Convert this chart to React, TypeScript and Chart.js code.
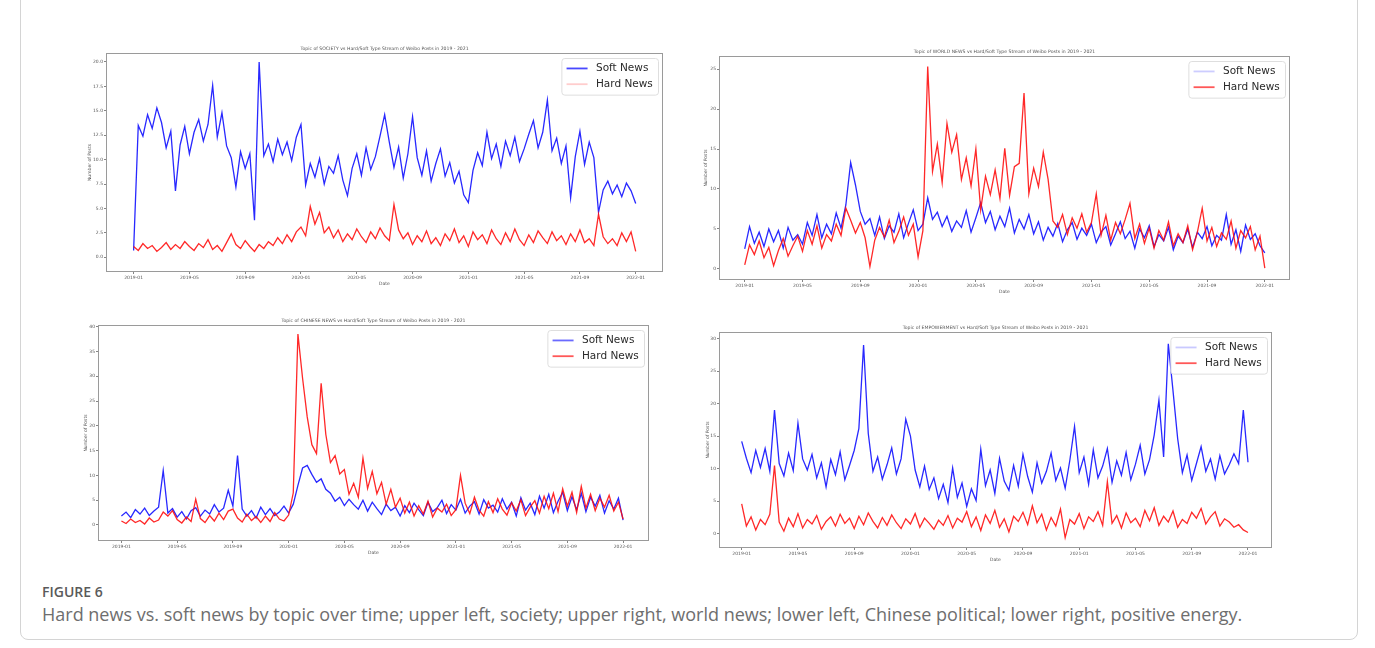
import React, { useEffect, useRef } from "react";
import { Chart, registerables } from "chart.js";

Chart.register(...registerables);

// ---------- data (3 points per month, 2019-01-01 … 2022-01-01) ----------
const xTickLabels = ["2019-01", "2019-05", "2019-09", "2020-01", "2020-05", "2020-09", "2021-01", "2021-05", "2021-09", "2022-01"];
const xTickIndex = [0, 12, 24, 36, 48, 60, 72, 84, 96, 108];

const societySoft = [
  0.7, 13.5, 12.4, 14.6, 13.2, 15.3, 13.8, 11.2, 12.9, 6.8,
  11.5, 13.4, 10.6, 12.8, 14.1, 11.9, 13.6, 17.6, 12.3, 14.8,
  11.4, 10.2, 7.2, 10.8, 9.1, 10.6, 3.8, 20.0, 10.4, 11.6,
  9.8, 12.1, 10.5, 11.8, 9.9, 12.3, 13.6, 7.4, 9.6, 8.2,
  10.1, 7.5, 9.3, 8.6, 10.4, 7.9, 6.3, 9.1, 10.6, 8.4,
  11.2, 9.0, 10.3, 12.4, 14.6, 11.8, 9.2, 11.3, 8.1, 10.6,
  14.4, 10.2, 8.4, 10.9, 7.8, 9.6, 11.1, 8.3, 9.7, 7.6,
  8.8, 6.4, 5.6, 8.9, 10.7, 9.4, 12.8, 10.1, 11.6, 9.3,
  11.9, 10.4, 12.3, 9.8, 11.1, 12.6, 14.0, 11.2, 12.8, 16.1,
  10.9, 12.2, 9.6, 11.4, 6.1, 10.3, 12.9, 9.5, 11.8, 10.2,
  4.6, 6.9, 7.8, 6.5, 7.4, 6.2, 7.6, 6.8, 5.5,
];
const societyHard = [
  1.1, 0.7, 1.4, 0.9, 1.2, 0.6, 1.0, 1.5, 0.8, 1.3,
  0.9, 1.6, 1.1, 0.7, 1.4, 1.0, 1.8, 0.8, 1.2, 0.6,
  1.5, 2.4, 1.3, 0.9, 1.7, 1.1, 0.6, 1.3, 0.9, 1.6,
  1.2, 2.0, 1.4, 2.3, 1.6, 2.6, 3.1, 2.2, 5.2, 3.4,
  4.6, 2.5, 3.1, 2.0, 2.8, 1.6, 2.4, 1.8, 2.9, 2.1,
  1.5, 2.6, 1.9, 3.0, 2.2, 1.7, 5.4, 2.8, 1.9, 2.5,
  1.3, 2.2, 1.6, 2.7, 1.4, 2.0, 1.2, 2.4, 1.7, 2.9,
  1.5, 2.2, 1.1, 2.6, 1.8, 2.3, 1.4, 2.8, 1.9, 1.3,
  2.5, 1.6, 2.9, 1.8, 1.2, 2.3, 1.5, 2.7, 2.0, 1.4,
  2.6, 1.7, 2.2, 1.3, 2.4, 1.6, 2.8, 1.5, 1.9, 1.2,
  4.4, 2.1, 1.4, 1.9, 1.2, 2.5, 1.6, 2.6, 0.6,
];
const worldSoft = [
  2.5, 5.3, 3.2, 4.6, 2.8, 5.0, 3.4, 4.8, 2.6, 5.2,
  3.6, 4.3, 3.1, 5.8, 4.2, 6.8, 3.9, 5.6, 4.4, 7.0,
  5.1, 8.0, 13.3, 10.5, 7.2, 5.6, 6.3, 4.2, 6.5, 3.8,
  5.4, 4.6, 6.9, 3.9, 5.7, 7.4, 4.8, 5.6, 8.9, 6.2,
  7.1, 5.3, 6.6, 4.7, 6.0, 5.2, 7.3, 4.6, 6.4, 8.3,
  5.8, 7.2, 4.9, 6.6, 5.3, 7.6, 4.5, 6.2, 5.0, 6.8,
  4.4, 5.9, 3.6, 5.2, 4.1, 5.7, 3.4, 4.9, 5.8, 3.7,
  5.1, 4.2, 5.6, 3.3, 4.6, 5.3, 3.0, 4.4, 5.9, 3.8,
  4.7, 2.6, 5.0, 3.9, 5.4, 2.8, 4.3, 3.5, 5.2, 2.4,
  4.1, 3.3, 5.0, 2.7, 4.6, 3.8, 5.3, 2.9, 4.2, 3.6,
  6.8, 3.1, 4.9, 2.2, 5.5, 3.7, 4.4, 2.9, 2.0,
];
const worldHard = [
  0.5, 3.0, 1.8, 3.5, 1.4, 2.7, 0.4, 2.3, 3.8, 1.6,
  2.9, 4.1, 2.2, 4.8, 3.1, 5.4, 2.6, 4.3, 3.5, 5.6,
  4.2, 7.6, 6.1, 4.5, 5.8, 3.9, 0.3, 3.6, 5.2, 4.0,
  6.1, 3.3, 4.7, 6.5, 4.2, 5.6, 1.5, 4.8, 25.3, 12.2,
  15.6, 10.8, 18.2, 14.6, 16.8, 11.2, 13.9, 10.4, 15.0, 7.4,
  11.6, 9.3, 12.4, 8.8, 15.1, 9.2, 12.8, 13.2, 22.0, 9.4,
  12.6, 10.3, 14.6, 11.2, 6.0, 5.2, 6.8, 4.3, 6.4, 5.1,
  6.9, 4.6, 5.8, 9.4, 4.2, 6.7, 3.6, 5.8, 4.4, 6.2,
  8.2, 3.8, 5.6, 3.2, 5.1, 2.6, 4.8, 3.6, 5.9, 2.9,
  4.4, 3.3, 5.4, 2.4, 4.6, 7.6, 3.5, 5.2, 2.8, 4.5,
  3.7, 6.0, 2.6, 4.8, 3.9, 5.3, 2.4, 4.1, 0.1,
];
const chinaSoft = [
  1.8, 2.6, 1.5, 3.1, 2.2, 3.4, 1.9, 2.8, 3.6, 11.0,
  2.4, 3.3, 1.6, 2.7, 1.2, 2.9, 3.5, 1.8, 3.0, 2.2,
  4.1, 2.6, 3.4, 7.0, 3.8, 14.0, 3.2, 1.8, 2.9, 1.4,
  3.6, 2.1, 3.3, 1.9, 2.6, 3.8, 2.4, 4.2, 8.0, 11.5,
  12.0, 10.2, 8.6, 9.3, 7.2, 6.4, 4.8, 5.6, 3.9, 5.2,
  4.1, 3.2, 5.0, 2.8, 4.6, 3.3, 2.1, 4.2, 2.9, 3.6,
  1.8, 3.9, 2.5, 4.4, 3.1, 1.9, 4.6, 2.7, 3.5, 5.0,
  2.3, 4.1, 3.0, 5.2, 2.4, 3.8, 4.7, 2.2, 5.1, 3.4,
  4.0, 2.6, 5.3, 3.2, 4.6, 1.8, 5.5, 3.0, 4.4, 2.1,
  5.8, 3.4, 6.2, 2.5, 4.8, 6.6, 2.9, 5.7, 3.1, 6.4,
  2.7, 5.6, 3.8, 6.0, 2.4, 4.9, 3.2, 5.4, 1.0,
];
const chinaHard = [
  0.8, 0.3, 1.2, 0.5, 0.9, 0.2, 1.4, 0.6, 1.0, 2.6,
  1.8, 2.9, 1.1, 0.4, 1.6, 0.7, 5.2, 1.3, 0.5, 1.9,
  0.8, 2.4, 1.1, 2.8, 3.2, 1.4, 0.6, 2.2, 0.9, 1.7,
  0.5, 1.8, 0.7, 2.5, 1.2, 0.8, 2.0, 6.5, 38.5, 29.6,
  21.8, 16.2, 14.4, 28.6, 18.3, 12.6, 14.0, 10.3, 11.2, 6.2,
  8.4, 5.6, 13.5, 7.4, 10.8, 6.3, 8.6, 4.2, 7.2, 3.6,
  5.4, 2.4, 4.6, 1.8, 3.9, 2.2, 4.8, 1.6, 3.4, 2.6,
  4.2, 1.9, 3.1, 10.0, 4.4, 2.3, 5.6, 3.0, 1.8, 4.7,
  2.5, 5.3, 3.2, 2.0, 4.5, 2.8, 5.1, 1.9, 3.6, 4.9,
  2.4, 5.8, 3.3, 6.4, 2.7, 7.3, 3.8, 6.6, 2.5, 7.8,
  3.4, 6.2, 2.9, 5.4, 3.6, 6.0, 2.8, 4.6, 1.2,
];
const empowerSoft = [
  14.2, 11.6, 9.4, 12.8, 10.2, 13.1, 9.6, 19.0, 10.8, 8.9,
  12.4, 9.7, 17.0, 11.5, 9.8, 12.2, 8.6, 10.9, 7.2, 11.4,
  9.1, 12.6, 8.3, 10.5, 12.8, 16.2, 29.0, 15.4, 9.6, 11.8,
  8.4, 10.6, 13.2, 9.2, 11.5, 17.6, 15.0, 9.8, 7.2, 10.4,
  6.8, 8.6, 5.4, 7.6, 4.8, 10.1, 5.6, 7.8, 4.2, 6.9,
  5.1, 13.0, 7.4, 9.8, 6.2, 11.6, 8.1, 6.7, 10.5, 7.3,
  12.2, 8.8, 6.4, 10.9, 7.8, 9.6, 12.4, 8.2, 10.1, 7.0,
  11.3, 16.5, 9.4, 11.8, 7.6, 12.9, 8.6, 10.4, 13.1, 7.9,
  11.2, 9.0, 12.5, 8.3, 10.7, 13.6, 9.2, 11.4, 15.2, 20.5,
  11.8, 29.2, 22.0, 14.6, 9.4, 12.1, 8.2, 10.8, 13.4, 9.6,
  11.5, 8.4, 12.0, 9.2, 10.6, 12.3, 10.8, 19.0, 11.0,
];
const empowerHard = [
  4.6, 1.2, 2.6, 0.6, 2.2, 1.4, 3.0, 10.5, 1.8, 0.4,
  2.4, 1.1, 3.1, 0.9, 2.2, 1.5, 2.8, 0.7, 1.9, 2.6,
  1.2, 3.0, 1.6, 2.4, 0.8, 2.7, 1.4, 3.2, 1.9, 0.9,
  2.5, 1.3, 2.9, 1.7, 0.8, 2.3, 1.5, 3.1, 1.0, 2.4,
  1.6, 0.7, 2.1, 1.3, 2.8, 0.9, 2.4, 1.8, 3.4, 1.1,
  2.6, 0.5, 2.9, 1.6, 3.6, 1.0, 2.3, 0.3, 2.7, 1.9,
  3.3, 1.4, 4.3, 1.7, 3.0, 0.6, 2.5, 1.2, 3.8, -0.6,
  2.2, 1.5, 3.1, 0.8, 2.6, 1.9, 3.4, 1.3, 8.0, 1.6,
  2.8, 0.9, 3.2, 1.7, 2.4, 1.1, 3.6, 2.0, 4.0, 1.3,
  2.7, 1.8, 3.5, 1.0, 2.2, 1.6, 3.3, 2.4, 3.9, 1.5,
  2.6, 3.4, 1.2, 2.3, 1.8, 1.0, 1.4, 0.6, 0.2,
];

// ---------- panel configuration ----------
type Frame = { l: number; t: number; r: number; b: number };
type Panel = {
  title: string;
  soft: number[];
  hard: number[];
  frame: Frame;
  xMin: number; xMax: number;
  yMin: number; yMax: number;
  yTicks: number[];
  yDecimals: number;
  yTitleGap: number;
  legendSoft: string;
  legendHard: string;
};

const FONT = "'DejaVu Sans', sans-serif";
const SOFT = "rgba(10,10,255,0.88)";
const HARD = "rgba(255,10,10,0.88)";
const WY = 40, PT = 14, PR = 8, HX = 18;

const panels: Panel[] = [
  {
    title: "Topic of SOCIETY vs Hard/Soft Type Stream of Weibo Posts in 2019 - 2021",
    soft: societySoft, hard: societyHard,
    frame: { l: 106, t: 53, r: 663, b: 272 },
    xMin: -5.94, xMax: 113.87, yMin: -1.51, yMax: 20.92,
    yTicks: [0, 2.5, 5, 7.5, 10, 12.5, 15, 17.5, 20], yDecimals: 1, yTitleGap: 16,
    legendSoft: "rgba(40,40,255,0.85)", legendHard: "rgba(255,200,200,0.9)",
  },
  {
    title: "Topic of WORLD NEWS vs Hard/Soft Type Stream of Weibo Posts in 2019 - 2021",
    soft: worldSoft, hard: worldHard,
    frame: { l: 719, t: 56, r: 1290, b: 280 },
    xMin: -5.34, xMax: 113.23, yMin: -1.38, yMax: 26.63,
    yTicks: [0, 5, 10, 15, 20, 25], yDecimals: 0, yTitleGap: 13,
    legendSoft: "rgba(200,200,255,0.9)", legendHard: "rgba(255,70,70,0.9)",
  },
  {
    title: "Topic of CHINESE NEWS vs Hard/Soft Type Stream of Weibo Posts in 2019 - 2021",
    soft: chinaSoft, hard: chinaHard,
    frame: { l: 98, t: 325, r: 649, b: 541 },
    xMin: -5.04, xMax: 113.58, yMin: -3.23, yMax: 40.34,
    yTicks: [0, 5, 10, 15, 20, 25, 30, 35, 40], yDecimals: 0, yTitleGap: 12,
    legendSoft: "rgba(90,90,255,0.9)", legendHard: "rgba(255,70,70,0.9)",
  },
  {
    title: "Topic of EMPOWERMENT vs Hard/Soft Type Stream of Weibo Posts in 2019 - 2021",
    soft: empowerSoft, hard: empowerHard,
    frame: { l: 719, t: 332, r: 1272, b: 548 },
    xMin: -4.84, xMax: 113.12, yMin: -2.18, yMax: 31.0,
    yTicks: [0, 5, 10, 15, 20, 25, 30], yDecimals: 0, yTitleGap: 11,
    legendSoft: "rgba(195,195,255,0.9)", legendHard: "rgba(255,70,70,0.9)",
  },
];

function geom(f: Frame) {
  return { x: f.l - WY, y: f.t - PT, w: f.r - f.l + WY + PR, h: f.b - f.t + PT + HX };
}

function decorPlugin(p: Panel) {
  return {
    id: "decor",
    afterDraw(chart: any) {
      const { ctx, chartArea: a } = chart;
      ctx.save();
      // axes frame
      ctx.strokeStyle = "#9a9a9a";
      ctx.lineWidth = 1;
      ctx.strokeRect(Math.round(a.left) + 0.5, Math.round(a.top) + 0.5, Math.round(a.right - a.left) - 1, Math.round(a.bottom - a.top) - 1);
      // title
      ctx.fillStyle = "#555";
      ctx.font = `4.6px ${FONT}`;
      ctx.textAlign = "center";
      ctx.textBaseline = "middle";
      ctx.fillText(p.title, (a.left + a.right) / 2, a.top - 4.5);
      // legend (upper right, inside axes)
      const F = 10.5;
      ctx.font = `${F}px ${FONT}`;
      const tw = Math.max(ctx.measureText("Soft News").width, ctx.measureText("Hard News").width);
      const pad = 0.4 * F, hl = 2 * F, gap = 0.8 * F;
      const bw = pad * 2 + hl + gap + tw + 2;
      const bh = pad * 2 + F * 2 + 0.5 * F + 2;
      const bx = a.right - 5 - bw, by = a.top + 5;
      ctx.fillStyle = "rgba(255,255,255,0.85)";
      ctx.strokeStyle = "#dedede";
      ctx.beginPath();
      (ctx as any).roundRect(bx + 0.5, by + 0.5, bw, bh, 3);
      ctx.fill();
      ctx.stroke();
      const rows = [
        { label: "Soft News", color: p.legendSoft },
        { label: "Hard News", color: p.legendHard },
      ];
      rows.forEach((row, k) => {
        const cy = by + pad + 1 + F / 2 + k * 1.5 * F;
        ctx.strokeStyle = row.color;
        ctx.lineWidth = 1.8;
        ctx.beginPath();
        ctx.moveTo(bx + pad + 1, cy);
        ctx.lineTo(bx + pad + 1 + hl, cy);
        ctx.stroke();
        ctx.fillStyle = "#2a2a2a";
        ctx.textAlign = "left";
        ctx.fillText(row.label, bx + pad + 1 + hl + gap, cy);
      });
      ctx.restore();
    },
  };
}

function makeChart(canvas: HTMLCanvasElement, p: Panel) {
  const tickFont = { family: FONT, size: 4.5 };
  return new Chart(canvas, {
    type: "line",
    data: {
      datasets: [
        {
          label: "Hard News",
          data: p.hard.map((v, i) => ({ x: i, y: v })),
          borderColor: HARD,
          borderWidth: 1.3,
          pointRadius: 0,
          tension: 0,
          order: 1,
        },
        {
          label: "Soft News",
          data: p.soft.map((v, i) => ({ x: i, y: v })),
          borderColor: SOFT,
          borderWidth: 1.3,
          pointRadius: 0,
          tension: 0,
          order: 2,
        },
      ],
    },
    options: {
      responsive: false,
      animation: false,
      events: [],
      layout: { padding: { left: 0, top: PT, right: PR, bottom: 0 } },
      plugins: { legend: { display: false }, title: { display: false }, tooltip: { enabled: false } },
      scales: {
        x: {
          type: "linear",
          min: p.xMin,
          max: p.xMax,
          afterFit: (s: any) => { s.height = HX; },
          afterBuildTicks: (s: any) => { s.ticks = xTickIndex.map((v) => ({ value: v })); },
          grid: { display: true, drawOnChartArea: false, tickLength: 2, color: "#666", lineWidth: 0.8 },
          border: { display: false },
          ticks: {
            font: tickFont, color: "#555", padding: 1, maxRotation: 0, autoSkip: false,
            callback: (v: any) => xTickLabels[xTickIndex.indexOf(Number(v))],
          },
          title: { display: true, text: "Date", font: tickFont, color: "#555", padding: { top: 0, bottom: 3.3 } },
        },
        y: {
          type: "linear",
          min: p.yMin,
          max: p.yMax,
          afterFit: (s: any) => { s.width = WY; },
          afterBuildTicks: (s: any) => { s.ticks = p.yTicks.map((v) => ({ value: v })); },
          grid: { display: true, drawOnChartArea: false, tickLength: 2, color: "#666", lineWidth: 0.8 },
          border: { display: false },
          ticks: {
            font: tickFont, color: "#555", padding: 1,
            callback: (v: any) => Number(v).toFixed(p.yDecimals),
          },
          title: {
            display: true, text: "Number of Posts", font: tickFont, color: "#555",
            padding: { top: WY - p.yTitleGap - 2.7, bottom: 0 },
          },
        },
      },
    },
    plugins: [decorPlugin(p)],
  } as any);
}

export default function App() {
  const refs = useRef<(HTMLCanvasElement | null)[]>([]);
  useEffect(() => {
    const charts = panels.map((p, k) => makeChart(refs.current[k] as HTMLCanvasElement, p));
    return () => charts.forEach((c) => c.destroy());
  }, []);
  return (
    <div style={{ position: "absolute", left: 0, top: 0, width: 1375, height: 648, background: "#fff", overflow: "hidden" }}>
      <div
        style={{
          position: "absolute", left: 20, top: -20, width: 1338, height: 660,
          border: "1px solid #d4d4d4", borderRadius: 8, boxSizing: "border-box",
        }}
      />
      {panels.map((p, k) => {
        const g = geom(p.frame);
        return (
          <canvas
            key={k}
            ref={(el) => { refs.current[k] = el; }}
            width={g.w}
            height={g.h}
            style={{ position: "absolute", left: g.x, top: g.y, width: g.w, height: g.h }}
          />
        );
      })}
      <div
        style={{
          position: "absolute", left: 42, top: 584, fontFamily: "'Open Sans', sans-serif",
          fontSize: 14, lineHeight: "16px", color: "#5a5a5a", fontWeight: 600,
        }}
      >
        FIGURE 6
      </div>
      <div
        style={{
          position: "absolute", left: 42, top: 603, fontFamily: "'Open Sans', sans-serif",
          fontSize: 18, lineHeight: "22px", color: "#6e6e6e", whiteSpace: "nowrap",
        }}
      >
        Hard news vs. soft news by topic over time; upper left, society; upper right, world news; lower left, Chinese political; lower right, positive energy.
      </div>
    </div>
  );
}
